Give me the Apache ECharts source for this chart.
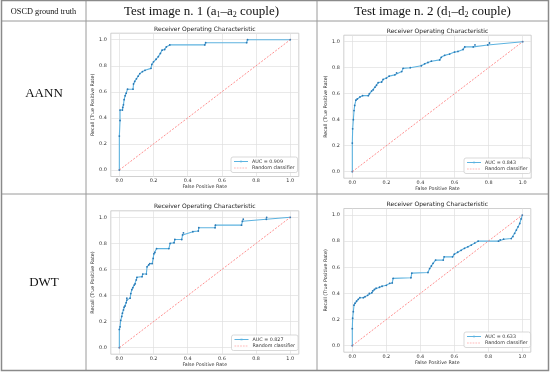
<!DOCTYPE html>
<html><head><meta charset="utf-8">
<script src="https://cdn.jsdelivr.net/npm/echarts@6/dist/echarts.min.js"></script>
<style>html,body{margin:0;padding:0;background:#fff}#c{width:550px;height:373px}</style>
</head><body><div id="c"></div>
<script>
// ---------- data ----------
const tickValues = [0, 0.2, 0.4, 0.6, 0.8, 1.0];
const colHeaders = ['Test image n. 1 (a{s|1}–a{s|2} couple)', 'Test image n. 2 (d{s|1}–d{s|2} couple)'];
const cornerHeader = 'OSCD ground truth';
const rowLabels = ['AANN', 'DWT'];
const chartTitle = 'Receiver Operating Characteristic';
const xName = 'False Positive Rate';
const yName = 'Recall (True Positive Rate)';
const aucLabels = ['AUC = 0.909', 'AUC = 0.843', 'AUC = 0.827', 'AUC = 0.633'];
const randomName = 'Random classifier';
const randomLine = [[0, 0], [1, 1]];

const rocAannImg1 = [[0,0],[0,0.26],[0.004,0.38],[0.004,0.46],[0.018,0.46],[0.02,0.48],[0.024,0.5],[0.028,0.54],[0.034,0.57],[0.04,0.59],[0.048,0.62],[0.08,0.62],[0.083,0.66],[0.09,0.68],[0.1,0.70],[0.11,0.72],[0.12,0.74],[0.135,0.755],[0.15,0.765],[0.185,0.78],[0.19,0.81],[0.2,0.83],[0.215,0.85],[0.228,0.87],[0.24,0.895],[0.25,0.92],[0.265,0.925],[0.275,0.945],[0.295,0.96],[0.5,0.96],[0.505,0.977],[0.745,0.977],[0.75,1.0],[1.0,1.0]];
const rocAannImg2 = [[0,0],[0,0.22],[0.002,0.33],[0.006,0.40],[0.01,0.47],[0.014,0.51],[0.021,0.55],[0.029,0.56],[0.045,0.575],[0.06,0.585],[0.094,0.585],[0.1,0.60],[0.113,0.62],[0.123,0.63],[0.133,0.65],[0.142,0.665],[0.152,0.685],[0.172,0.69],[0.181,0.71],[0.2,0.72],[0.216,0.735],[0.25,0.745],[0.26,0.76],[0.29,0.77],[0.298,0.795],[0.34,0.80],[0.405,0.815],[0.425,0.83],[0.444,0.84],[0.464,0.85],[0.513,0.86],[0.522,0.88],[0.542,0.895],[0.571,0.905],[0.6,0.92],[0.62,0.925],[0.65,0.94],[0.66,0.96],[0.71,0.96],[0.72,0.975],[0.795,0.975],[0.805,0.99],[1.0,1.0]];
const rocDwtImg1 = [[0,0],[0,0.14],[0.004,0.16],[0.008,0.21],[0.014,0.24],[0.018,0.265],[0.024,0.29],[0.028,0.31],[0.034,0.32],[0.04,0.345],[0.044,0.365],[0.044,0.38],[0.063,0.38],[0.067,0.415],[0.073,0.445],[0.079,0.46],[0.087,0.48],[0.093,0.49],[0.099,0.52],[0.103,0.54],[0.133,0.545],[0.137,0.565],[0.158,0.565],[0.162,0.62],[0.172,0.635],[0.178,0.645],[0.192,0.645],[0.198,0.685],[0.202,0.72],[0.208,0.73],[0.218,0.76],[0.29,0.76],[0.297,0.80],[0.32,0.805],[0.325,0.83],[0.365,0.83],[0.37,0.865],[0.375,0.88],[0.43,0.89],[0.462,0.895],[0.465,0.92],[0.56,0.92],[0.562,0.94],[0.715,0.94],[0.72,0.97],[0.725,0.985],[0.86,0.985],[0.862,1.0],[1.0,1.0]];
const rocDwtImg2 = [[0,0],[0,0.13],[0.002,0.21],[0.006,0.26],[0.01,0.31],[0.016,0.325],[0.025,0.34],[0.035,0.355],[0.045,0.367],[0.065,0.367],[0.075,0.375],[0.09,0.385],[0.1,0.40],[0.115,0.405],[0.12,0.42],[0.13,0.43],[0.14,0.44],[0.16,0.447],[0.175,0.455],[0.2,0.462],[0.22,0.477],[0.235,0.48],[0.24,0.515],[0.345,0.52],[0.35,0.555],[0.445,0.56],[0.455,0.59],[0.465,0.61],[0.475,0.63],[0.49,0.655],[0.535,0.655],[0.54,0.68],[0.59,0.68],[0.6,0.70],[0.62,0.715],[0.64,0.73],[0.66,0.745],[0.68,0.757],[0.70,0.77],[0.72,0.785],[0.74,0.80],[0.86,0.80],[0.87,0.81],[0.89,0.815],[0.935,0.82],[0.945,0.835],[0.955,0.86],[0.965,0.885],[0.975,0.91],[0.985,0.935],[0.993,0.97],[1.0,1.0]];
const rocCurves = [rocAannImg1, rocAannImg2, rocDwtImg1, rocDwtImg2];

// ---------- layout (positions / styles) ----------
const frames = [
  {left: 110.8, top: 33.2, width: 188, height: 143.3},
  {left: 343.8, top: 35.2, width: 187.4, height: 143},
  {left: 110.8, top: 210.8, width: 188, height: 143.4},
  {left: 343.8, top: 208.5, width: 187, height: 143.7}
];
const legendPos = [[231, 157], [464, 158], [231.5, 335], [464, 332]];
const SANS = 'DejaVu Sans';
const SERIF = 'Liberation Serif';
const tickFont = 4.9, nameFont = 4.8, titleFont = 6;
const solidIcon = 'path://M0,0L40,0L40,2.2L0,2.2Z M17,-1.3L23,-1.3L23,3.5L17,3.5Z';
const dashIcon = 'path://M0,0h5v2h-5z M8,0h5v2h-5z M16,0h5v2h-5z M24,0h5v2h-5z M32,0h5v2h-5z M40,0h0.01v2h-0.01z';
const curveColor = '#5db3e0', markerColor = '#2a78b4', randomColor = '#ff7373';

const grid = [], xAxis = [], yAxis = [], series = [], legend = [], graphic = [];

frames.forEach((f, i) => {
  grid.push({left: f.left, top: f.top, width: f.width, height: f.height, show: true,
    borderColor: '#c4c4c4', borderWidth: 0.8, backgroundColor: 'transparent', containLabel: false});
  const axisCommon = {
    type: 'value', min: -0.05, max: 1.05, gridIndex: i,
    axisLine: {show: false},
    axisTick: {show: false, customValues: tickValues},
    axisLabel: {customValues: tickValues, formatter: v => v.toFixed(1), fontSize: tickFont, fontFamily: SANS, color: '#333'},
    splitLine: {show: true, lineStyle: {color: '#e0e0e0', width: 0.7}},
    nameLocation: 'middle', nameTextStyle: {fontSize: nameFont, fontFamily: SANS, color: '#333'}
  };
  xAxis.push(Object.assign({}, axisCommon, {name: xName, nameGap: 7,
    axisLabel: Object.assign({}, axisCommon.axisLabel, {margin: 2})}));
  yAxis.push(Object.assign({}, axisCommon, {name: yName, nameGap: 11, nameRotate: 90,
    axisLabel: Object.assign({}, axisCommon.axisLabel, {margin: 4})}));
  series.push({
    name: aucLabels[i], type: 'line', xAxisIndex: i, yAxisIndex: i, data: rocCurves[i],
    symbol: 'circle', symbolSize: 1.8, showSymbol: true,
    lineStyle: {color: curveColor, width: 1.1},
    itemStyle: {color: markerColor}, z: 2
  });
  series.push({
    name: randomName, type: 'line', xAxisIndex: i, yAxisIndex: i, data: randomLine,
    symbol: 'none', lineStyle: {color: randomColor, width: 0.8, type: [2, 1.5]},
    itemStyle: {color: randomColor}, z: 3
  });
  legend.push({
    data: [{name: aucLabels[i], icon: solidIcon, itemStyle: {color: curveColor}},
           {name: randomName, icon: dashIcon, itemStyle: {color: randomColor}}],
    orient: 'vertical', left: legendPos[i][0], top: legendPos[i][1],
    itemWidth: 14, itemHeight: 5, itemGap: 1.5, padding: [2, 3, 2, 3],
    backgroundColor: 'rgba(255,255,255,0.9)', borderColor: '#cfcfcf', borderWidth: 0.8, borderRadius: 2,
    textStyle: {fontSize: 4.8, fontFamily: SANS, color: '#333', padding: [0, 0, 0, -1]},
    selectedMode: false
  });
  graphic.push({type: 'text', x: f.left + f.width / 2, y: f.top - 4, silent: true,
    style: {text: chartTitle, fontSize: titleFont, fontFamily: SANS, fill: '#222',
      align: 'center', verticalAlign: 'middle', textAlign: 'center', textVerticalAlign: 'middle'}});
});

// table lines
const lineColor = '#9a9a9a';
const tLines = [
  [86, 0, 86, 371], [317, 0, 317, 371], [1, 21, 549, 21], [1, 194, 549, 194]
];
tLines.forEach(l => graphic.push({type: 'line', silent: true, shape: {x1: l[0], y1: l[1], x2: l[2], y2: l[3]},
  style: {stroke: lineColor, lineWidth: 1}}));
graphic.push({type: 'rect', silent: true, shape: {x: 1.5, y: 0.5, width: 547, height: 370},
  style: {fill: 'none', stroke: '#8a8a8a', lineWidth: 1.5}});

// header / row label texts
graphic.push({type: 'text', x: 43.5, y: 12, silent: true,
  style: {text: cornerHeader, fontSize: 8.3, fontFamily: SERIF, fill: '#111', align: 'center', verticalAlign: 'middle', textAlign: 'center', textVerticalAlign: 'middle'}});
[201.5, 432.5].forEach((cx, j) => graphic.push({type: 'text', x: cx, y: 12, silent: true,
  style: {text: colHeaders[j], fontSize: 13, fontFamily: SERIF, fill: '#111', align: 'center', verticalAlign: 'middle', textAlign: 'center', textVerticalAlign: 'middle',
    rich: {s: {fontSize: 8, fontFamily: SERIF, fill: '#111', verticalAlign: 'bottom', lineHeight: 9}}}}));
[94, 283].forEach((cy, j) => graphic.push({type: 'text', x: 44, y: cy, silent: true,
  style: {text: rowLabels[j], fontSize: 13, fontFamily: SERIF, fill: '#111', align: 'center', verticalAlign: 'middle', textAlign: 'center', textVerticalAlign: 'middle'}}));

const chart = echarts.init(document.getElementById('c'), null, {renderer: 'canvas'});
chart.setOption({animation: false, backgroundColor: '#fff', grid, xAxis, yAxis, series, legend, graphic});
</script></body></html>
